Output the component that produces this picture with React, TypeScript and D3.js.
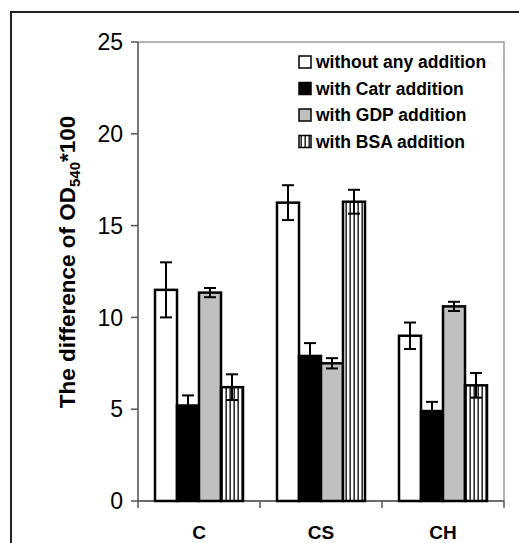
import React from 'react';
import * as d3 from 'd3';

const categories = ['C', 'CS', 'CH'];
const seriesNames = ['without any addition', 'with Catr addition', 'with GDP addition', 'with BSA addition'];
const seriesFills = ['#ffffff', '#000000', '#c0c0c0', 'url(#vstripe)'];
const means = [
  [11.5, 5.2, 11.35, 6.2],
  [16.25, 7.9, 7.5, 16.3],
  [9.0, 4.9, 10.6, 6.3],
];
const errors = [
  [1.5, 0.55, 0.25, 0.7],
  [0.95, 0.7, 0.28, 0.65],
  [0.72, 0.5, 0.25, 0.67],
];
const yTicks = [0, 5, 10, 15, 20, 25];

const W = 519, H = 543;
const PLOT = { left: 138, right: 504, top: 42, bottom: 501 };

export default function App() {
  const x = d3.scaleBand().domain(categories).range([PLOT.left, PLOT.right]);
  const y = d3.scaleLinear().domain([0, 25]).range([PLOT.bottom, PLOT.top]);
  const barW = 22;
  const xs = d3.scaleBand().domain(seriesNames).range([0, barW * 4]);

  return (
    <svg width={W} height={H} style={{ position: 'absolute', left: 0, top: 0, fontFamily: 'Liberation Sans, Arial, sans-serif' }}>
      <defs>
        <pattern id="vstripe" width={4} height={4} patternUnits="userSpaceOnUse">
          <rect width={4} height={4} fill="#fff" />
          <rect x={1.5} width={1.3} height={4} fill="#000" />
        </pattern>
      </defs>
      <rect x={0} y={0} width={W} height={H} fill="#fff" />
      {/* outer frame */}
      <rect x={11} y={12} width={W} height={H} fill="none" stroke="#222" strokeWidth={2} />

      {/* plot border */}
      <rect x={PLOT.left} y={PLOT.top} width={PLOT.right - PLOT.left} height={PLOT.bottom - PLOT.top}
        fill="none" stroke="#999" strokeWidth={1.5} />

      {/* y axis */}
      <line x1={PLOT.left} x2={PLOT.left} y1={PLOT.top} y2={PLOT.bottom} stroke="#666" strokeWidth={1.5} />
      {yTicks.map(t => (
        <g key={t}>
          <line x1={PLOT.left - 7} x2={PLOT.left} y1={y(t)} y2={y(t)} stroke="#555" strokeWidth={1.5} />
          <text x={PLOT.left - 15} y={y(t)} dy="0.36em" textAnchor="end" fontSize={23} fill="#000">{t}</text>
        </g>
      ))}

      {/* x axis */}
      <line x1={PLOT.left} x2={PLOT.right} y1={PLOT.bottom} y2={PLOT.bottom} stroke="#555" strokeWidth={1.5} />
      {[...categories.map(c => x(c) as number), PLOT.right].map((v, i) => (
        <line key={i} x1={v} x2={v} y1={PLOT.bottom} y2={PLOT.bottom + 7} stroke="#555" strokeWidth={1.5} />
      ))}
      {categories.map(c => (
        <text key={c} x={(x(c) as number) + x.bandwidth() / 2} y={539} textAnchor="middle" fontSize={19} fontWeight="bold">{c}</text>
      ))}

      {/* bars */}
      {categories.map((c, ci) => {
        const x0 = (x(c) as number) + x.bandwidth() / 2 - barW * 2;
        return (
          <g key={c}>
            {seriesNames.map((s, si) => {
              const bx = x0 + (xs(s) as number);
              const v = means[ci][si];
              const e = errors[ci][si];
              const cx = bx + barW / 2;
              return (
                <g key={s}>
                  <rect x={bx} y={y(v)} width={barW} height={y(0) - y(v)} fill={seriesFills[si]} stroke="#000" strokeWidth={2.5} />
                  <line x1={cx} x2={cx} y1={y(v + e)} y2={y(v - e)} stroke="#000" strokeWidth={2} />
                  <line x1={cx - 6} x2={cx + 6} y1={y(v + e)} y2={y(v + e)} stroke="#000" strokeWidth={2} />
                  <line x1={cx - 6} x2={cx + 6} y1={y(v - e)} y2={y(v - e)} stroke="#000" strokeWidth={2} />
                </g>
              );
            })}
          </g>
        );
      })}

      {/* legend */}
      {seriesNames.map((s, i) => (
        <g key={s} transform={`translate(299,${62 + i * 26.5})`}>
          <rect x={0} y={-6} width={12} height={12} fill={seriesFills[i]} stroke="#000" strokeWidth={1.5} />
          <text x={17} y={0} dy="0.35em" fontSize={17.5} fontWeight="bold">{s}</text>
        </g>
      ))}

      {/* y label */}
      <text transform="translate(75,262) rotate(-90)" textAnchor="middle" fontSize={22.5} fontWeight="bold">
        The difference of OD<tspan fontSize={15} dy={5}>540</tspan><tspan dy={-5}>*100</tspan>
      </text>
    </svg>
  );
}
